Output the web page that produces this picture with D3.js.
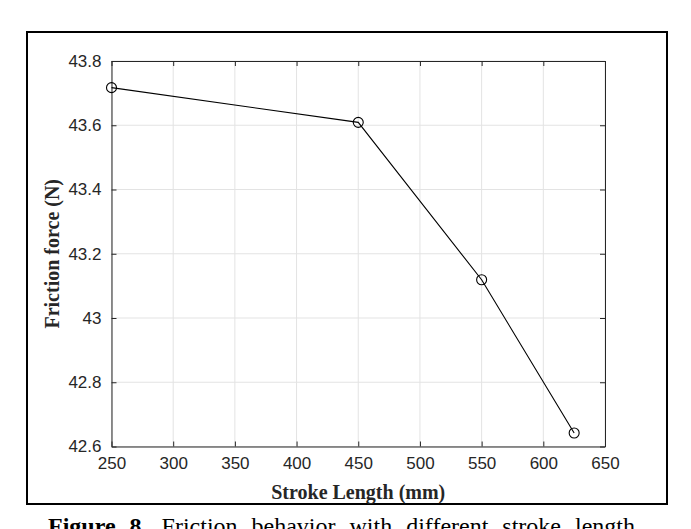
<!DOCTYPE html>
<html>
<head>
<meta charset="utf-8">
<script src="https://cdn.jsdelivr.net/npm/d3@7"></script>
<style>
  body { margin: 0; background: #fff; }
  svg { display: block; }
</style>
</head>
<body>
<div id="chart"></div>
<script>
const strokeLength = [250, 450, 550, 625];
const frictionForce = [43.717, 43.609, 43.119, 42.642];
const xTicks = [250, 300, 350, 400, 450, 500, 550, 600, 650];
const yTicks = [42.6, 42.8, 43, 43.2, 43.4, 43.6, 43.8];

const data = strokeLength.map((s, i) => ({ x: s, y: frictionForce[i] }));

const W = 691, H = 529;
const plotL = 111.5, plotR = 605, plotT = 61, plotB = 446.5;
const axisColor = "#262626";

const svg = d3.select("#chart")
  .append("svg")
  .attr("width", W)
  .attr("height", H);

// outer frame
svg.append("rect")
  .attr("x", 27).attr("y", 32)
  .attr("width", 640).attr("height", 472)
  .attr("fill", "none")
  .attr("stroke", "#000")
  .attr("stroke-width", 2);

const xScale = d3.scaleLinear().domain([250, 650]).range([plotL, plotR]);
const yScale = d3.scaleLinear().domain([42.6, 43.8]).range([plotB, plotT]);

// grid
svg.append("g")
  .selectAll("line")
  .data(xTicks)
  .enter()
  .append("line")
  .attr("x1", (d) => xScale(d)).attr("x2", (d) => xScale(d))
  .attr("y1", plotT).attr("y2", plotB)
  .attr("stroke", "#e3e3e3");

svg.append("g")
  .selectAll("line")
  .data(yTicks)
  .enter()
  .append("line")
  .attr("y1", (d) => yScale(d)).attr("y2", (d) => yScale(d))
  .attr("x1", plotL).attr("x2", plotR)
  .attr("stroke", "#e3e3e3");

// axes (ticks inward, box on)
const tickLen = 5;
const styleAxis = (g) => {
  g.select(".domain").attr("stroke", axisColor);
  g.selectAll(".tick line").attr("stroke", axisColor);
  g.selectAll(".tick text")
    .attr("fill", axisColor)
    .style("font-family", "Arial, 'Liberation Sans', sans-serif")
    .style("font-size", "17px");
};

svg.append("g")
  .attr("id", "x-axis")
  .attr("transform", "translate(0," + plotB + ")")
  .call(d3.axisBottom(xScale).tickValues(xTicks).tickSize(-tickLen).tickSizeOuter(0).tickPadding(17))
  .call(styleAxis)
  .call((g) => g.selectAll(".tick text").attr("dy", "0.32em"));

svg.append("g")
  .attr("id", "y-axis")
  .attr("transform", "translate(" + plotL + ",0)")
  .call(d3.axisLeft(yScale).tickValues(yTicks).tickFormat((d) => String(d)).tickSize(-tickLen).tickSizeOuter(0).tickPadding(10))
  .call(styleAxis);

svg.append("g")
  .attr("transform", "translate(0," + plotT + ")")
  .call(d3.axisTop(xScale).tickValues(xTicks).tickFormat("").tickSize(-tickLen).tickSizeOuter(0))
  .call(styleAxis);

svg.append("g")
  .attr("transform", "translate(" + plotR + ",0)")
  .call(d3.axisRight(yScale).tickValues(yTicks).tickFormat("").tickSize(-tickLen).tickSizeOuter(0))
  .call(styleAxis);

// line and markers
const line = d3.line().x((d) => xScale(d.x)).y((d) => yScale(d.y));

svg.append("path")
  .datum(data)
  .attr("d", line)
  .attr("fill", "none")
  .attr("stroke", "#000")
  .attr("stroke-width", 1.1);

svg.selectAll("circle.dot")
  .data(data)
  .enter()
  .append("circle")
  .attr("class", "dot")
  .attr("cx", (d) => xScale(d.x))
  .attr("cy", (d) => yScale(d.y))
  .attr("r", 5)
  .attr("fill", "none")
  .attr("stroke", "#000")
  .attr("stroke-width", 1.1);

// axis labels
svg.append("text")
  .attr("x", (plotL + plotR) / 2)
  .attr("y", 499)
  .attr("text-anchor", "middle")
  .style("font-family", "'Times New Roman', 'Liberation Serif', serif")
  .style("font-weight", "bold")
  .style("font-size", "20px")
  .attr("fill", "#262626")
  .text("Stroke Length (mm)");

svg.append("text")
  .attr("transform", "translate(59," + (plotT + plotB) / 2 + ") rotate(-90)")
  .attr("text-anchor", "middle")
  .style("font-family", "'Times New Roman', 'Liberation Serif', serif")
  .style("font-weight", "bold")
  .style("font-size", "20px")
  .attr("fill", "#262626")
  .text("Friction force (N)");

// caption, its lower part runs off the bottom edge like in the source
const caption = svg.append("text")
  .attr("x", 48)
  .attr("y", 534)
  .style("font-family", "'Times New Roman', 'Liberation Serif', serif")
  .style("font-size", "24px")
  .style("word-spacing", "8px")
  .attr("fill", "#000");
caption.append("tspan").style("font-weight", "bold").text("Figure 8. ");
caption.append("tspan").text("Friction behavior with different stroke length");
</script>
</body>
</html>
